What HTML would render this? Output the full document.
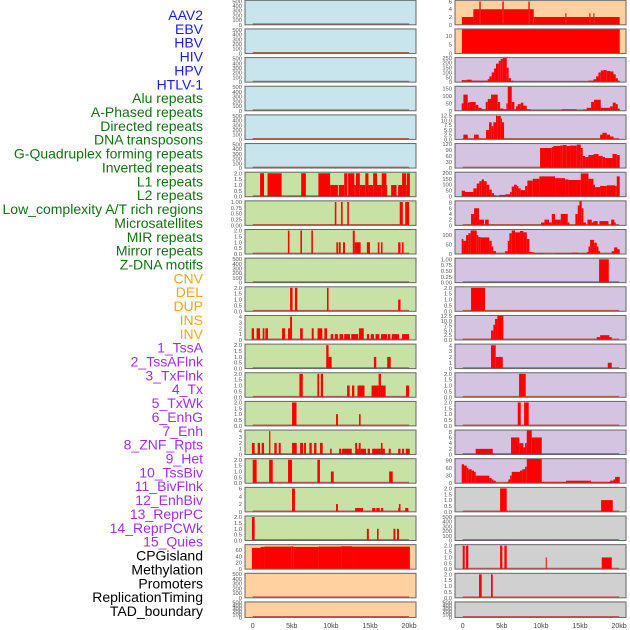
<!DOCTYPE html>
<html><head><meta charset="utf-8">
<style>
html,body{margin:0;padding:0;background:#fff;width:630px;height:630px;overflow:hidden}
svg{display:block}
</style></head>
<body>
<svg id="chart" width="630" height="630" viewBox="0 0 630 630" xmlns="http://www.w3.org/2000/svg" font-family="Liberation Sans, sans-serif"></svg>
<script>
const labels=["AAV2","EBV","HBV","HIV","HPV","HTLV-1","Alu repeats","A-Phased repeats","Directed repeats","DNA transposons","G-Quadruplex forming repeats","Inverted repeats","L1 repeats","L2 repeats","Low_complexity A/T rich regions","Microsatellites","MIR repeats","Mirror repeats","Z-DNA motifs","CNV","DEL","DUP","INS","INV","1_TssA","2_TssAFlnk","3_TxFlnk","4_Tx","5_TxWk","6_EnhG","7_Enh","8_ZNF_Rpts","9_Het","10_TssBiv","11_BivFlnk","12_EnhBiv","13_ReprPC","14_ReprPCWk","15_Quies","CPGisland","Methylation","Promoters","ReplicationTiming","TAD_boundary"];
const labelGroups=["virus","virus","virus","virus","virus","virus","repeat","repeat","repeat","repeat","repeat","repeat","repeat","repeat","repeat","repeat","repeat","repeat","repeat","sv","sv","sv","sv","sv","hmm","hmm","hmm","hmm","hmm","hmm","hmm","hmm","hmm","hmm","hmm","hmm","hmm","hmm","hmm","other","other","other","other","other"];
const xTicks=[0,5,10,15,20];
const xTickLabels=["0","5kb","10kb","15kb","20kb"];
const T500=[0,100,200,300,400,500],T2=[0,0.5,1,1.5,2],T1=[0,0.25,0.5,0.75,1],T4=[0,1,2,3,4],T6=[0,2,4,6],T125=[0,2.5,5,7.5,10,12.5];
// left column panels (labels 0..21)
const leftTicks=[T500,T500,T500,T500,T500,T500,T2,T1,T2,T500,T2,T4,T2,T2,T2,T4,T2,T6,T2,[0,20,40,60],T500,T500];
const leftTickFmt=[0,0,0,0,0,0,1,2,1,0,1,0,1,1,1,0,1,0,1,0,0,0];
const leftYmax=[520,520,520,520,520,520,2.09,1.05,2.09,520,2.09,4.2,2.09,2.09,2.09,4.2,2.09,6.3,2.09,76,520,520];
const leftSeries=[[],[],[],[],[],[],
[[0.94,1.45,2],[1.9,3.7,2],[6.2,6.8,2],[8.4,9.9,2],[9.9,10.9,1],[11,11.7,1],[11.7,12.1,2],[12.2,13,2],[13,13.2,1],[13.2,13.7,2],[13.7,14.4,1],[14.4,14.8,2],[14.8,15.4,1],[15.4,15.9,2],[15.9,16.5,1],[16.5,17.1,2],[17.1,17.2,1],[17.7,18.4,1],[18.6,19.1,1],[19.1,19.6,2],[19.6,19.7,1],[19.7,20.1,2]],
[[10.5,10.7,1],[11.3,11.5,1],[12.1,12.3,1],[18.8,19.2,1],[19.5,20,1]],
[[4.5,4.7,2],[6.1,6.3,2],[7.5,7.7,2],[12.8,13.05,2],[10.7,10.9,1],[11,11.25,1],[11.55,11.8,1],[13.05,13.8,1],[14.6,15,1],[16,16.2,1],[16.4,16.6,1],[18.6,18.9,1],[19.1,19.3,1]],
[],
[[4.78,5.1,2],[5.4,5.7,2],[9.5,9.7,2],[18.6,18.9,1]],
[[-0.13,0.17,2],[0.5,0.94,2],[1.28,1.5,2],[1.62,1.96,2],[3.75,4.14,2],[4.52,4.78,2],[4.78,5.03,4],[6.06,6.4,2],[7.55,7.8,2],[8.3,8.9,2],[9.17,9.5,2],[9.98,10.3,1],[10.5,10.9,1],[11.1,11.55,1],[11.7,12.45,1],[12.6,13.5,1],[13.6,14.2,2],[14.6,14.9,1],[15.1,15.5,1],[15.7,16.2,1],[16.4,17.2,1],[17.3,17.6,1],[17.8,18.7,1],[19.1,20,1]],
[[9.4,9.7,2],[9.7,10.1,1],[15.5,15.8,1],[17.2,17.65,1]],
[[5.97,6.4,2],[8.27,8.5,2],[8.7,9.0,2],[16.1,16.4,2],[12.07,12.4,1],[12.7,13,1],[13.4,14.3,1],[15.2,16.1,1],[16.4,17,1],[19.6,20,1]],
[[5.03,5.6,2],[10.66,10.9,1],[13.6,13.8,1]],
[[-0.1,0.25,2],[0.64,0.94,2],[1.15,1.45,2],[2.1,2.26,4],[2.77,3.07,2],[3.33,3.58,2],[5.03,5.63,2],[6.06,6.44,2],[6.57,6.82,2],[7.25,7.55,2],[7.85,8.15,2],[8.6,8.95,2],[9.9,10.1,1],[11.05,11.34,1],[11.43,12.67,1],[13.1,13.35,2],[13.35,13.56,1],[13.56,13.8,2],[13.8,14.5,1],[14.7,15,1],[15.27,16.4,1],[16.4,16.6,2],[16.6,16.9,1],[17.4,17.65,1],[18.6,18.9,1],[19.1,19.36,1],[19.57,20.08,1]],
[[0,0.5,2],[2.1,2.56,2],[4.52,5.03,2],[8.27,8.6,2],[10,10.36,1],[17.45,17.9,1]],
[[5.03,5.4,6],[10.66,10.9,2],[13.1,14.1,1],[15.27,15.7,1],[15.8,16.25,1],[16.4,16.7,1],[18.6,18.7,1],[18.7,18.9,2],[19.5,19.9,1]],
[[-0.1,0.25,2],[14.6,14.85,1],[15.9,16.1,1],[18,18.25,1],[18.45,18.7,1]],
[[-0.1,1,66],[1,1.5,69],[1.5,5,70],[5,5.2,71],[5.2,8.4,69],[8.4,11.3,70],[11.3,12.7,71],[12.7,20.1,70]],
[],[]];
// right column panels (labels 22..43)
const rightTicks=[T6,[0,5,10],[0,50,100,150,200,250],[0,50,100,150],T125,[0,30,60,90,120],[0,50,100,150,200],[0,2,4,6,8],[0,50,100],T1,T2,T125,T4,T2,T2,[0,2,4,6,8],[0,30,60,90],T2,T500,T2,T2,T500];
const rightTickFmt=[0,0,0,0,1,0,0,0,0,2,1,1,0,1,1,0,0,1,0,1,1,0];
const rightYmax=[6.3,14,253,167,12.9,122,205,8.6,130,1.05,2.09,12.9,4.2,2.09,2.09,8.6,97,2.09,520,2.09,2.09,520];
const rightSeries=[
[[-0.1,1.36,2],[1.36,2.13,4],[2.13,2.3,6],[2.3,5.07,4],[5.07,5.25,6],[5.25,8.4,4],[8.4,8.57,6],[8.57,9.08,4],[9.08,13.13,2],[13.13,13.26,3],[13.26,16.2,2],[16.2,16.33,3],[16.33,16.72,2],[16.72,16.84,3],[16.84,20.08,2]],
[[-0.1,20.08,14]],
[[-0.13,0.51,20],[0.51,1.15,25],[1.15,3.2,15],[3.2,3.41,30],[3.41,3.71,60],[3.71,4.01,100],[4.01,4.26,140],[4.26,4.6,190],[4.6,4.86,220],[4.86,5.12,240],[5.12,5.63,250],[5.63,5.88,150],[5.88,6.18,40],[6.18,6.48,15],[6.48,16.08,5],[16.08,16.72,15],[16.72,17.06,30],[17.06,17.36,60],[17.36,17.66,100],[17.66,18.0,120],[18.0,18.42,125],[18.42,18.85,115],[18.85,19.28,110],[19.28,19.57,80],[19.57,19.83,40],[19.83,20.08,15]],
[[-0.13,0.09,50],[0.09,0.64,110],[0.64,0.85,55],[0.85,1.66,60],[1.66,2.0,40],[2.0,2.43,20],[2.43,2.94,10],[2.94,3.2,60],[3.2,3.62,80],[3.62,4.48,110],[4.48,4.78,60],[4.78,5.2,15],[5.2,5.59,10],[5.59,5.76,50],[5.76,6.27,165],[6.27,6.61,60],[6.61,6.82,10],[6.82,7.04,30],[7.04,7.42,45],[7.42,7.76,55],[7.76,8.19,35],[8.19,8.7,10],[8.7,12.67,3],[12.67,14.58,10],[14.58,15.35,3],[15.35,15.86,8],[15.86,16.42,20],[16.42,16.8,60],[16.8,17.65,75],[17.65,18.85,20],[18.85,19.19,30],[19.19,19.57,55],[19.57,19.83,45],[19.83,20.08,15]],
[[0.09,0.64,2.5],[1.45,2.05,2.5],[2.99,3.37,5],[3.37,3.71,9],[3.71,3.92,7],[3.92,4.26,9],[4.26,4.43,12.5],[4.43,4.86,12.3],[4.86,5.03,11],[5.03,5.29,9],[17.57,17.87,2.5],[17.87,18.42,3.5],[18.42,18.85,2.5],[18.85,19.28,1.5]],
[[9.89,11.39,100],[11.39,11.6,105],[11.6,12.45,110],[12.45,12.79,112],[12.79,13.3,115],[13.3,13.73,110],[13.73,14.58,112],[14.58,15.1,117],[15.1,15.35,100],[15.35,15.65,60],[15.65,16.08,55],[16.08,16.72,65],[16.72,17.36,70],[17.36,17.91,60],[17.91,18.21,55],[18.21,19.15,50],[19.15,19.7,70],[19.7,20.08,65]],
[[-0.13,0.3,50],[0.3,1.36,40],[1.36,1.79,70],[1.79,2.13,110],[2.13,2.43,130],[2.43,2.73,145],[2.73,3.07,130],[3.07,3.41,100],[3.41,3.71,60],[3.71,4.01,30],[4.01,4.26,10],[4.69,5.42,15],[5.42,6.06,20],[6.06,6.27,40],[6.27,6.57,85],[6.57,6.91,100],[6.91,7.12,90],[7.12,7.42,70],[7.42,7.97,55],[7.97,8.27,90],[8.27,8.96,135],[8.96,9.81,150],[9.81,11.81,170],[11.81,13.09,155],[13.09,13.52,145],[13.52,15.1,140],[15.1,16.08,195],[16.08,16.72,150],[16.72,16.93,100],[16.93,17.57,80],[17.57,18.42,90],[18.42,19.49,95],[19.49,19.7,90],[19.7,20.08,170]],
[[1.07,1.45,4],[1.45,2.09,6],[2.09,2.73,2],[2.86,3.33,2],[10.02,10.45,1],[10.45,11.04,2],[11.04,11.39,1],[11.39,11.81,4],[11.81,12.54,2],[12.54,13.43,4],[13.43,13.65,1],[14.41,14.71,4],[14.71,14.93,7],[14.93,15.22,8.6],[15.22,15.44,6],[15.44,15.78,1],[15.95,16.5,2],[16.5,16.72,1],[16.72,17.27,1.5],[17.48,18.64,1.5],[18.98,19.4,2],[19.4,19.57,1]],
[[-0.13,0.09,80],[0.09,0.43,70],[0.43,0.72,100],[0.72,1.02,110],[1.02,1.79,125],[1.79,2.0,100],[2.0,2.3,90],[2.3,3.41,88],[3.41,3.71,70],[3.71,3.92,40],[3.92,4.26,15],[5.42,5.76,15],[5.76,5.97,70],[5.97,6.27,110],[6.27,6.7,125],[6.7,7.33,115],[7.33,7.76,122],[7.76,8.19,115],[8.19,8.53,80],[8.53,9.04,10],[9.04,9.25,8],[9.25,10.32,5],[10.53,11.81,3],[11.81,13.94,5],[13.94,14.8,7],[14.8,15.86,5],[15.86,16.08,10],[16.08,16.29,40],[16.29,16.8,75],[16.8,17.14,60],[17.14,17.36,40],[17.36,17.57,15],[19.06,19.36,15],[19.36,19.79,35],[19.79,20.08,25]],
[[17.44,18.68,1]],
[[1.07,2.86,2]],
[[3.62,3.92,5],[3.92,4.14,8],[4.14,4.43,11],[4.43,5.2,12.9],[17.14,17.57,1.5],[17.57,18.76,2.5],[18.76,19.06,1.5]],
[[3.62,4.22,4],[4.22,5.12,2],[18.55,19.06,1]],
[[7.21,8.06,2]],
[[7.04,7.42,2],[7.85,8.44,2]],
[[1.66,3.84,2],[6.18,7.25,6],[7.25,7.76,4],[7.76,7.97,2.5],[7.97,8.19,4],[8.19,8.83,8.6],[8.83,10.11,6]],
[[-0.13,0.17,75],[0.17,0.51,70],[0.51,0.72,60],[0.72,1.15,55],[1.15,1.45,50],[1.45,1.66,45],[1.66,3.41,30],[3.41,3.71,20],[3.71,3.92,15],[3.92,4.22,10],[5.63,5.84,5],[5.84,6.06,15],[6.06,6.27,30],[6.27,7.33,45],[7.33,7.63,50],[7.63,7.97,55],[7.97,8.19,65],[8.19,10.11,97],[10.11,13.22,5],[13.22,16.42,10],[16.42,18.85,5],[18.85,19.28,10],[19.28,19.49,15],[19.49,20.08,25]],
[[4.78,5.63,2],[17.7,19.19,1]],
[],
[[0,0.26,2],[0.43,0.72,2],[4.78,5.07,2],[5.33,5.63,2],[10.62,10.75,1],[17.78,19.06,1]],
[[2.09,2.43,2],[3.62,3.84,2]],
[]];

const NS="http://www.w3.org/2000/svg";
const svg=document.getElementById('chart');
function mk(tag,attrs,parent){const e=document.createElementNS(NS,tag);for(const k in attrs)e.setAttribute(k,attrs[k]);(parent||svg).appendChild(e);return e;}
const groupColor={virus:"#1a1aff",repeat:"#137013",sv:"#ffa31a",hmm:"#a02cff",other:"#000"};
const bgColor={virus:"#c8e4ec",repeat:"#c8e2a6",sv:"#ffd0a0",hmm:"#d4c4e2",other:"#d0d0d0"};
// labels
labels.forEach((t,i)=>{
  const e=mk('text',{x:203,y:20+i*13.86,'text-anchor':'end','font-size':14,fill:groupColor[labelGroups[i]]});
  e.textContent=t;
  
  
});
function rowTop(i){return 0.3+i*28.65;}
function rowH(i){return i===21?15.5:24.5;}
function drawPanel(col,i,ticks,fmt,ymax,segs,labIdx){
  const px=col===0?245:455, pw=171;
  const x0=px+7.7;
  const xs=kb=>x0+kb*7.82;
  const top=rowTop(i), h=rowH(i), bot=top+h;
  const ys=v=>bot-(v/ymax)*h;
  const grp=labelGroups[labIdx];
  const g=mk('g',{});
  
  
  const bg=mk('rect',{x:px,y:top,width:pw,height:h,fill:bgColor[grp]},g);
  
  
  const base=mk('line',{x1:xs(0),x2:xs(20),y1:bot-0.8,y2:bot-0.8,stroke:'#b85a50','stroke-width':1.2},g);
  
  
  segs.forEach(s=>{
    const b=mk('rect',{x:xs(s[0]),y:ys(s[2]),width:Math.max(0.6,xs(s[1])-xs(s[0])),height:bot-ys(s[2]),fill:'#ff0000'},g);
    
    
  });
  const br=mk('rect',{x:px,y:top,width:pw,height:h,fill:'none',stroke:'#666','stroke-width':1},g);
  
  
  ticks.forEach(v=>{
    const yy=ys(v); if(yy<top-1) return;
    const t=mk('text',{x:px-3,y:yy+2,'text-anchor':'end','font-size':5.8,fill:'#555'},g);
    t.textContent=v.toFixed(fmt);
    
    
  });
}
for(let i=0;i<22;i++){
  drawPanel(0,i,leftTicks[i],leftTickFmt[i],leftYmax[i],leftSeries[i],i);
  drawPanel(1,i,rightTicks[i],rightTickFmt[i],rightYmax[i],rightSeries[i],22+i);
}
[0,1].forEach(col=>{
  const x0=(col===0?245:455)+7.7;
  xTicks.forEach((v,k)=>{
    const t=mk('text',{x:x0+v*7.82,y:628,'text-anchor':'middle','font-size':7,fill:'#444'});
    t.textContent=xTickLabels[k];
    
    
  });
});
</script>
</body></html>
